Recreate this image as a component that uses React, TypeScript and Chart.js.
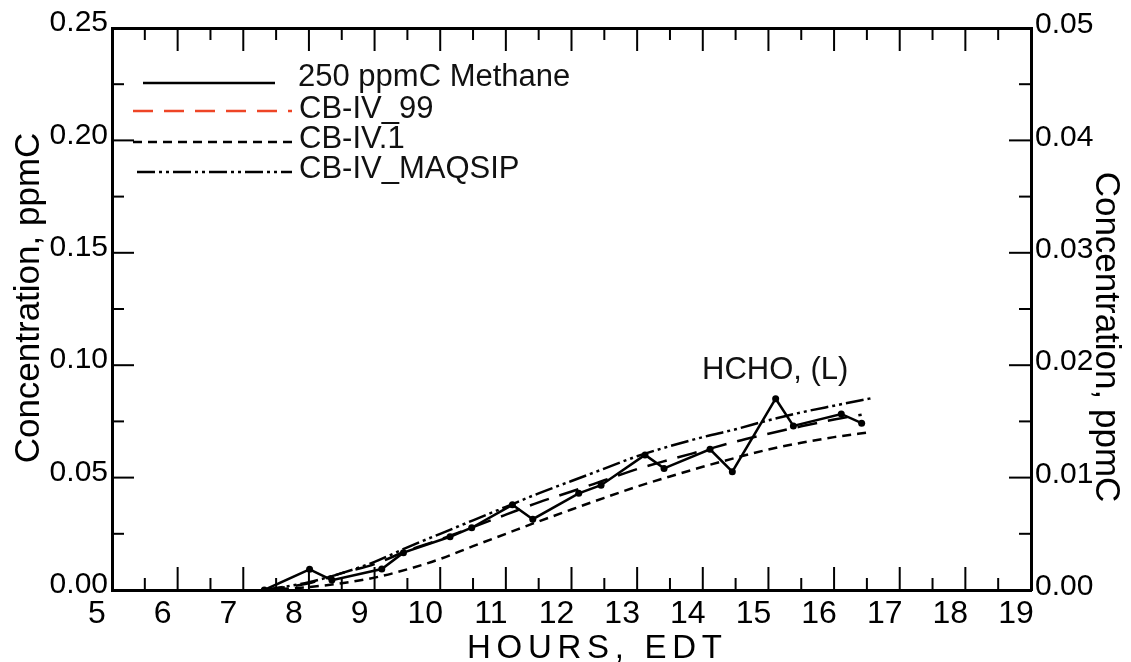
import React, { useEffect, useRef } from "react";
import { Chart, registerables } from "chart.js";

Chart.register(...registerables);

// ---- Data ----
const methaneHours = [7.32, 8.01, 8.35, 9.11, 9.44, 10.15, 10.48, 11.1, 11.41, 12.11, 12.45, 13.12, 13.41, 14.11, 14.45, 15.11, 15.38, 16.11, 16.42];
const methaneValues = [0.0, 0.0092, 0.0044, 0.0093, 0.0166, 0.0237, 0.0277, 0.0379, 0.0315, 0.043, 0.0466, 0.0601, 0.0541, 0.0626, 0.0526, 0.0851, 0.073, 0.0783, 0.0742];

const cb99Hours = [7.33, 8, 8.5, 9, 9.5, 10, 10.5, 11, 11.5, 12, 12.5, 13, 13.5, 14, 14.5, 15, 15.5, 16, 16.42];
const cb99Values = [0.0, 0.003, 0.0075, 0.0115, 0.0175, 0.0225, 0.028, 0.0335, 0.039, 0.0438, 0.0488, 0.0538, 0.058, 0.062, 0.066, 0.0695, 0.0728, 0.0758, 0.078];

const cb1Hours = [7.33, 8, 8.5, 9, 9.5, 10, 10.5, 11, 11.5, 12, 12.5, 13, 13.5, 14, 14.5, 15, 15.5, 16, 16.55];
const cb1Values = [0.0, 0.0013, 0.003, 0.0055, 0.0092, 0.0138, 0.0195, 0.025, 0.0305, 0.0358, 0.041, 0.046, 0.0505, 0.0548, 0.0588, 0.0625, 0.0655, 0.068, 0.0702];

const maqsipHours = [7.33, 8, 8.5, 9, 9.5, 10, 10.5, 11, 11.5, 12, 12.5, 13, 13.5, 14, 14.5, 15, 15.5, 16, 16.6];
const maqsipValues = [0.0, 0.0035, 0.0075, 0.0125, 0.019, 0.025, 0.031, 0.037, 0.043, 0.0485, 0.054, 0.0595, 0.064, 0.068, 0.0715, 0.0755, 0.079, 0.082, 0.0855];

const hourTickLabels = ["5", "6", "7", "8", "9", "10", "11", "12", "13", "14", "15", "16", "17", "18", "19"];
const leftTickLabels = ["0.00", "0.05", "0.10", "0.15", "0.20", "0.25"];
const rightTickLabels = ["0.00", "0.01", "0.02", "0.03", "0.04", "0.05"];
const legendLabels = ["250 ppmC Methane", "CB-IV_99", "CB-IV.1", "CB-IV_MAQSIP"];
const annotationText = "HCHO, (L)";
const xTitle = "HOURS, EDT";
const yTitle = "Concentration, ppmC";

const FONT = "'Liberation Sans', Arial, Helvetica, sans-serif";
const NARROW = "'Liberation Sans Narrow', 'Arial Narrow', 'Liberation Sans', sans-serif";

const DASH_99 = [20, 11];
const DASH_1 = [9, 6];
const DASH_MAQ = [18, 4, 3, 4, 3, 4];
const RED = "#ee4526";

function toPts(xs: number[], ys: number[]) {
  return xs.map((x, i) => ({ x, y: ys[i] }));
}

const overlayPlugin = {
  id: "overlay",
  afterDraw(chart: any) {
    const ctx = chart.ctx as CanvasRenderingContext2D;
    const { left, right, top, bottom } = chart.chartArea;
    const xs = chart.scales.x;
    const yl = chart.scales.y;
    const yr = chart.scales.y2;
    const line = (x1: number, y1: number, x2: number, y2: number) => {
      ctx.beginPath();
      ctx.moveTo(x1, y1);
      ctx.lineTo(x2, y2);
      ctx.stroke();
    };
    ctx.save();
    ctx.strokeStyle = "#000";
    ctx.lineWidth = 2;
    ctx.setLineDash([]);
    // inward ticks on x (top & bottom)
    for (let i = 1; i < 28; i++) {
      const px = xs.getPixelForValue(xs.min + i * 0.5);
      const len = i % 2 === 0 ? 23 : 12;
      line(px, top, px, top + len);
      line(px, bottom, px, bottom - len);
    }
    // left axis ticks
    for (let i = 1; i < 10; i++) {
      const py = yl.getPixelForValue(i * 0.025);
      const len = i % 2 === 0 ? 22 : 12;
      line(left, py, left + len, py);
    }
    // right axis ticks
    for (let i = 1; i < 10; i++) {
      const py = yr.getPixelForValue(i * 0.005);
      const len = i % 2 === 0 ? 22 : 12;
      line(right, py, right - len, py);
    }

    // legend
    const entries = [
      { color: "#000", dash: [] as number[], x1: 143, x2: 275, y: 83, tx: 298, ty: 86 },
      { color: RED, dash: DASH_99, x1: 133, x2: 292, y: 111, tx: 299, ty: 118 },
      { color: "#000", dash: DASH_1, x1: 133, x2: 292, y: 142, tx: 299, ty: 148 },
      { color: "#000", dash: DASH_MAQ, x1: 137, x2: 292, y: 172, tx: 299, ty: 178 },
    ];
    ctx.font = `31px ${FONT}`;
    ctx.textBaseline = "alphabetic";
    ctx.textAlign = "left";
    entries.forEach((e, i) => {
      ctx.strokeStyle = e.color;
      ctx.lineWidth = 2.5;
      ctx.setLineDash(e.dash);
      line(e.x1, e.y, e.x2, e.y);
      ctx.setLineDash([]);
      ctx.fillStyle = "#111";
      ctx.fillText(legendLabels[i], e.tx, e.ty);
    });

    // annotation
    ctx.fillStyle = "#111";
    ctx.fillText(annotationText, 702, 379);

    // y titles
    ctx.font = `35px ${FONT}`;
    ctx.fillStyle = "#000";
    ctx.textAlign = "center";
    ctx.save();
    ctx.translate(39, 298);
    ctx.rotate(-Math.PI / 2);
    ctx.fillText(yTitle, 0, 0);
    ctx.restore();
    ctx.save();
    ctx.translate(1096, 337);
    ctx.rotate(Math.PI / 2);
    ctx.fillText(yTitle, 0, 0);
    ctx.restore();

    // x title with letter spacing
    ctx.font = `33px ${NARROW}`;
    ctx.textAlign = "left";
    const chars = xTitle.split("");
    const widths = chars.map((c) => ctx.measureText(c).width);
    const natural = widths.reduce((a, b) => a + b, 0);
    const span = 255;
    const gap = (span - natural) / (chars.length - 1);
    let cx = 467;
    chars.forEach((c, i) => {
      ctx.fillText(c, cx, 658);
      cx += widths[i] + gap;
    });
    ctx.restore();
  },
};

export default function App() {
  const ref = useRef<HTMLCanvasElement | null>(null);
  useEffect(() => {
    if (!ref.current) return;
    const chart = new Chart(ref.current, {
      type: "scatter",
      data: {
        datasets: [
          {
            label: legendLabels[0],
            data: toPts(methaneHours, methaneValues),
            showLine: true,
            borderColor: "#000",
            backgroundColor: "#000",
            borderWidth: 2.5,
            pointRadius: 3.5,
            pointBackgroundColor: "#000",
            pointBorderWidth: 0,
            yAxisID: "y",
          },
          {
            label: legendLabels[1],
            data: toPts(cb99Hours, cb99Values),
            showLine: true,
            borderColor: "#000",
            borderWidth: 2.5,
            borderDash: DASH_99,
            pointRadius: 0,
            cubicInterpolationMode: "monotone",
            yAxisID: "y",
          },
          {
            label: legendLabels[2],
            data: toPts(cb1Hours, cb1Values),
            showLine: true,
            borderColor: "#000",
            borderWidth: 2.5,
            borderDash: DASH_1,
            pointRadius: 0,
            cubicInterpolationMode: "monotone",
            yAxisID: "y",
          },
          {
            label: legendLabels[3],
            data: toPts(maqsipHours, maqsipValues),
            showLine: true,
            borderColor: "#000",
            borderWidth: 2.5,
            borderDash: DASH_MAQ,
            pointRadius: 0,
            cubicInterpolationMode: "monotone",
            yAxisID: "y",
          },
        ],
      },
      options: {
        animation: false,
        responsive: false,
        devicePixelRatio: 1,
        layout: { padding: 0 },
        plugins: { legend: { display: false }, tooltip: { enabled: false } },
        scales: {
          x: {
            type: "linear",
            position: "bottom",
            min: 5,
            max: 19,
            afterFit: (s: any) => { s.height = 72; },
            ticks: {
              stepSize: 1,
              autoSkip: false,
              maxRotation: 0,
              padding: 5,
              labelOffset: -15,
              color: "#000",
              font: { family: NARROW, size: 32 },
              callback: (v: any) => hourTickLabels[Math.round(Number(v) - 5)] ?? "",
            },
            grid: { drawOnChartArea: false, drawTicks: false },
            border: { display: true, color: "#000", width: 3 },
          },
          x2: {
            type: "linear",
            position: "top",
            min: 5,
            max: 19,
            afterFit: (s: any) => { s.height = 28; },
            ticks: { display: false },
            grid: { drawOnChartArea: false, drawTicks: false },
            border: { display: true, color: "#000", width: 3 },
          },
          y: {
            type: "linear",
            position: "left",
            min: 0,
            max: 0.25,
            afterFit: (s: any) => { s.width = 112; },
            ticks: {
              stepSize: 0.05,
              padding: 4,
              labelOffset: -5,
              color: "#000",
              font: { family: FONT, size: 30 },
              callback: (v: any) => leftTickLabels[Math.round(Number(v) / 0.05)] ?? "",
            },
            grid: { drawOnChartArea: false, drawTicks: false },
            border: { display: true, color: "#000", width: 3 },
          },
          y2: {
            type: "linear",
            position: "right",
            min: 0,
            max: 0.05,
            afterFit: (s: any) => { s.width = 100; },
            ticks: {
              stepSize: 0.01,
              padding: 4,
              labelOffset: -3,
              color: "#000",
              font: { family: FONT, size: 30 },
              callback: (v: any) => rightTickLabels[Math.round(Number(v) / 0.01)] ?? "",
            },
            grid: { drawOnChartArea: false, drawTicks: false },
            border: { display: true, color: "#000", width: 3 },
          },
        },
      },
      plugins: [overlayPlugin],
    } as any);
    return () => chart.destroy();
  }, []);
  return (
    <div style={{ position: "fixed", left: 0, top: 0, width: 1131, height: 662, background: "#fff" }}>
      <canvas ref={ref} width={1131} height={662} style={{ display: "block" }} />
    </div>
  );
}
